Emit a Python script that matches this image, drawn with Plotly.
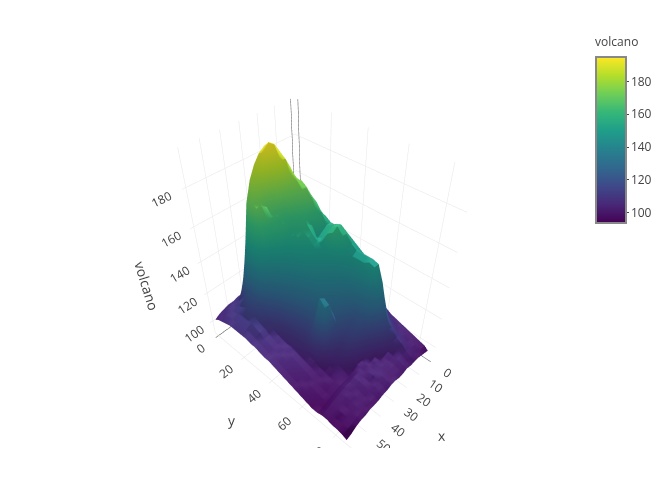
import plotly.graph_objects as go

x_vals = [0,3,6,9,12,15,18,21,24,27,30,33,36,39,42,45,48,51,54,57,60]
y_vals = [0,3,6,9,12,15,18,21,24,27,30,33,36,39,42,45,48,51,54,57,60,63,66,69,72,75,78,81,84,86]
volcano = [
[100,101,101,100,102,102,102,103,105,107,110,110,110,108,108,108,107,107,106,105,103],
[103,103,104,103,104,105,106,108,111,118,120,124,127,122,113,110,109,109,108,106,105],
[105,106,106,106,107,108,112,118,128,136,142,146,148,142,134,122,112,110,109,108,106],
[107,108,109,111,113,118,128,140,152,164,172,172,168,162,152,134,116,112,110,109,107],
[109,110,112,116,124,136,152,168,180,188,192,190,186,180,170,146,122,114,111,109,108],
[110,112,115,122,134,150,166,178,188,193,195,190,180,176,172,150,124,116,112,110,108],
[112,114,118,128,142,158,172,180,186,186,182,172,168,170,170,150,124,116,112,110,108],
[113,116,121,134,150,164,174,176,176,172,166,164,164,164,160,144,122,114,112,110,108],
[115,118,124,138,154,166,172,172,168,164,160,160,158,152,144,130,116,112,111,109,108],
[116,120,128,142,154,164,168,166,162,158,155,153,150,145,135,122,112,110,110,108,107],
[118,122,130,144,156,160,160,156,158,156,154,150,145,138,128,116,110,108,108,107,107],
[119,123,132,146,154,154,152,150,155,154,151,147,141,133,124,113,108,107,107,106,106],
[120,124,133,146,154,156,154,152,152,151,148,144,137,129,120,111,107,106,106,105,105],
[120,124,133,146,156,158,158,156,150,148,145,141,134,126,117,110,106,106,105,105,105],
[119,124,132,146,154,158,160,158,148,145,142,138,131,124,115,109,106,105,105,104,104],
[118,122,130,144,152,156,156,152,145,142,139,135,129,122,114,108,105,105,104,103,103],
[116,120,128,140,150,152,150,146,142,139,135,132,127,122,115,107,104,104,103,102,102],
[114,118,125,136,148,150,148,144,139,135,132,129,136,138,118,105,103,103,102,101,101],
[112,115,122,132,146,150,148,142,135,131,128,125,134,134,112,104,102,102,101,100,100],
[110,113,118,128,144,150,148,140,130,126,123,120,116,112,106,102,101,101,100,100,99],
[108,111,115,124,142,150,150,138,125,120,117,113,109,106,103,101,100,100,100,99,98],
[106,109,112,120,138,149,149,134,124,120,116,112,107,104,102,100,100,99,99,98,97],
[105,107,110,116,128,140,138,126,118,114,110,106,104,102,101,100,99,98,98,97,96],
[104,105,108,112,118,126,122,116,110,106,103,103,101,100,100,100,99,98,97,96,96],
[103,104,106,109,113,115,112,107,103,102,103,102,103,103,102,102,101,100,99,98,97],
[102,103,105,107,109,108,104,103,102,104,103,103,102,103,102,101,101,100,99,98,97],
[101,102,103,105,107,105,103,102,103,103,103,104,102,102,101,101,100,99,99,97,96],
[100,101,102,103,104,103,103,102,102,102,103,102,102,101,100,100,100,99,98,97,96],
[99,100,100,101,102,101,102,101,101,101,102,101,101,100,100,99,99,99,98,97,95],
[97,98,99,100,100,100,101,100,100,101,101,100,100,99,99,99,98,98,97,95,94],
]

fig = go.Figure(go.Surface(
    x=x_vals, y=y_vals, z=volcano,
    colorscale="Viridis",
    colorbar=dict(title=dict(text="volcano", font=dict(size=12, color="#444")),
                  ticklen=2, len=0.5, lenmode="fraction", x=1.028, y=1.02, yanchor="top",
                  tickfont=dict(size=12, color="#444"), outlinecolor="#888", outlinewidth=2),
))
fig.update_layout(
    template="none",
    width=672, height=480,
    margin=dict(l=60, r=108, t=25, b=40),
    font=dict(family="Open Sans, verdana, arial, sans-serif", color="#444"),
    scene=dict(xaxis=dict(title=dict(text="x"), gridcolor="rgb(230,230,230)"),
               yaxis=dict(title=dict(text="y"), gridcolor="rgb(230,230,230)"),
               zaxis=dict(title=dict(text="volcano"), gridcolor="rgb(230,230,230)"),
               camera=dict(center=dict(x=0, y=0, z=0.18),
                           eye=dict(x=1.37, y=1.27, z=1.72))),
    paper_bgcolor="white",
)
fig.write_html("out.html")
